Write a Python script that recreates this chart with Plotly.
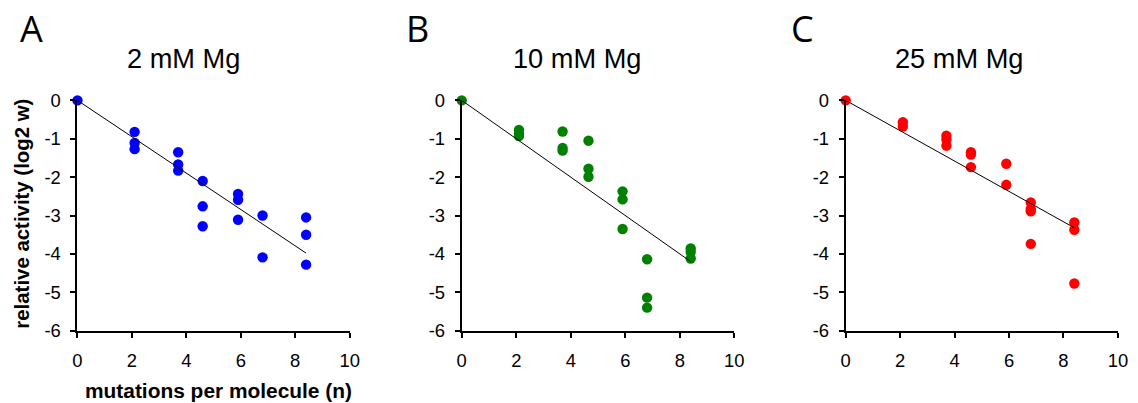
import plotly.graph_objects as go

# ---- data ----
panel_letters = ["A", "B", "C"]
panel_titles = ["2 mM Mg", "10 mM Mg", "25 mM Mg"]
colors = ["#0000FF", "#008000", "#FF0000"]

a_x = [0, 2.1, 2.1, 2.1, 3.7, 3.7, 3.7, 4.6, 4.6, 4.6, 5.9, 5.9, 5.9, 6.8, 6.8, 8.4, 8.4, 8.4]
a_y = [0, -0.82, -1.11, -1.27, -1.35, -1.67, -1.83, -2.10, -2.76, -3.28, -2.44, -2.59, -3.11, -3.00, -4.09, -3.05, -3.50, -4.28]

b_x = [0, 2.1, 2.1, 2.1, 3.7, 3.7, 3.7, 4.65, 4.65, 4.65, 5.9, 5.9, 5.9, 6.8, 6.8, 6.8, 8.4, 8.4, 8.4]
b_y = [0, -0.77, -0.86, -0.93, -0.81, -1.24, -1.31, -1.05, -1.78, -1.99, -2.37, -2.58, -3.35, -4.14, -5.14, -5.40, -3.86, -3.95, -4.12]

c_x = [0, 2.1, 2.1, 3.7, 3.7, 3.7, 4.6, 4.6, 4.6, 5.9, 5.9, 6.8, 6.8, 6.8, 6.8, 8.4, 8.4, 8.4]
c_y = [0, -0.57, -0.68, -0.92, -1.02, -1.18, -1.35, -1.41, -1.74, -1.65, -2.20, -2.66, -2.83, -2.89, -3.74, -3.18, -3.37, -4.77]

fit_x = [0, 8.4]
fit_a = [0, -3.98]
fit_b = [0, -4.20]
fit_c = [0, -3.32]

x_ticks = [0, 2, 4, 6, 8, 10]
y_ticks = [0, -1, -2, -3, -4, -5, -6]
y_tick_labels = ["0", "-1", "-2", "-3", "-4", "-5", "-6"]

xs = [a_x, b_x, c_x]
ys = [a_y, b_y, c_y]
fits = [fit_a, fit_b, fit_c]

# ---- layout geometry ----
W0, H0 = 1138, 403           # reference picture size
OFF = 8                      # page body margin
SX = (W0 + 2 * OFF) / W0     # page is photographed slightly reduced
SY = (H0 + 2 * OFF) / H0
W, H = W0, H0 + OFF          # figure also covers the bottom margin strip


def px(X):
    return (X * SX - OFF) / W


def py(Y):
    return 1 - (Y * SY - OFF) / H


x_domains = [(px(80.3), px(352.3)), (px(464.3), px(736.7)), (px(848), px(1120))]
y_domain = (py(331.7), py(98.3))

fig = go.Figure()
FONT = "Liberation Sans, Arial, sans-serif"
tick_font = dict(family=FONT, size=18.4, color="black")

for i in range(3):
    xa = "x" if i == 0 else f"x{i+1}"
    ya = "y" if i == 0 else f"y{i+1}"
    fig.add_trace(go.Scatter(x=xs[i], y=ys[i], mode="markers", xaxis=xa, yaxis=ya,
                             marker=dict(size=10.4, color=colors[i], line=dict(width=0)),
                             cliponaxis=False, showlegend=False))
    fig.add_trace(go.Scatter(x=fit_x, y=fits[i], mode="lines", xaxis=xa, yaxis=ya,
                             line=dict(color="black", width=1),
                             cliponaxis=False, showlegend=False))
    axsuffix = "" if i == 0 else str(i + 1)
    fig.update_layout(**{
        f"xaxis{axsuffix}": dict(domain=list(x_domains[i]), range=[0, 10], tickvals=x_ticks,
                                 showline=True, linecolor="black", linewidth=2,
                                 ticks="outside", ticklen=5, tickwidth=2, tickcolor="black",
                                 ticklabelstandoff=7,
                                 showgrid=False, zeroline=False, tickfont=tick_font,
                                 anchor=ya, fixedrange=True),
        f"yaxis{axsuffix}": dict(domain=list(y_domain), range=[-6, 0], tickvals=y_ticks,
                                 ticktext=y_tick_labels,
                                 showline=True, linecolor="black", linewidth=2,
                                 ticks="outside", ticklen=5, tickwidth=2, tickcolor="black",
                                 ticklabelstandoff=6,
                                 showgrid=False, zeroline=False, tickfont=tick_font,
                                 anchor=xa, fixedrange=True),
    })

annotations = []
letter_x = [21, 407, 791]
title_cx = [186.5, 579, 961.7]
for i in range(3):
    annotations.append(dict(text=panel_letters[i], x=px(letter_x[i]), y=py(25),
                            xref="paper", yref="paper", xanchor="left", yanchor="middle",
                            showarrow=False,
                            font=dict(family="Open Sans, Noto Sans, sans-serif", size=36, color="black")))
    annotations.append(dict(text=panel_titles[i], x=px(title_cx[i]), y=py(56),
                            xref="paper", yref="paper", xanchor="center", yanchor="middle",
                            showarrow=False,
                            font=dict(family=FONT, size=27.2, color="black")))

annotations.append(dict(text="<b>relative activity (log2 w)</b>", x=px(24), y=py(213),
                        xref="paper", yref="paper", xanchor="center", yanchor="middle",
                        textangle=-90, showarrow=False,
                        font=dict(family=FONT, size=20.4, color="black")))
annotations.append(dict(text="<b>mutations per molecule (n)</b>", x=px(221.7), y=py(392),
                        xref="paper", yref="paper", xanchor="center", yanchor="middle",
                        showarrow=False,
                        font=dict(family=FONT, size=20.9, color="black")))

fig.update_layout(width=W, height=H, margin=dict(l=0, r=0, t=0, b=0),
                  paper_bgcolor="white", plot_bgcolor="white",
                  annotations=annotations, showlegend=False)

fig.write_html("out.html", config={"displayModeBar": False})
